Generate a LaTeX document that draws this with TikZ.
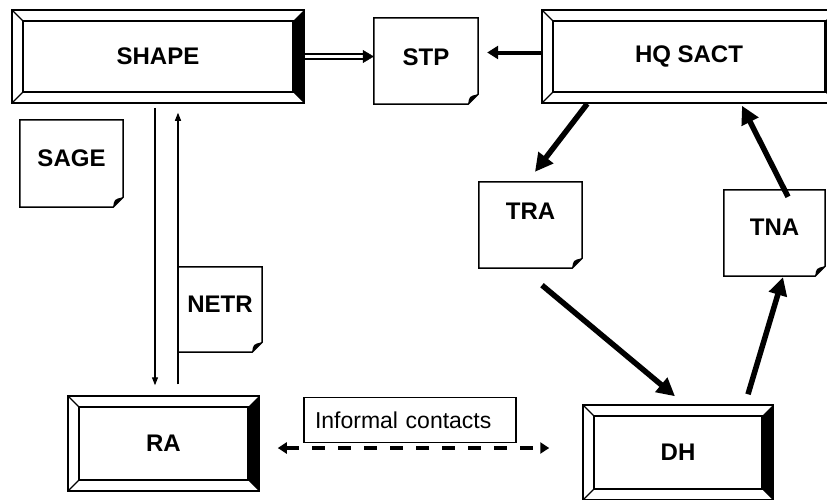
\documentclass[tikz,border=0pt]{standalone}
\usepackage{fontspec}
\setmainfont{Liberation Sans}
\usetikzlibrary{arrows.meta}

% outline of a note with its bottom right corner curled
\newcommand{\dogear}[1]{%
  \draw[line width=1.5pt] (#1.south west) -- (#1.north west) -- (#1.north east) -- ([yshift=10pt]#1.south east) -- ([xshift=-10pt]#1.south east) -- cycle;
  \fill ([yshift=10pt]#1.south east) .. controls ([xshift=-9pt,yshift=8pt]#1.south east) .. ([xshift=-10pt]#1.south east) -- cycle;
}

\begin{document}
\begin{tikzpicture}[x=1pt,y=-1pt,
  box/.style={draw, line width=1.5pt, inner sep=0pt, font=\bfseries\fontsize{24}{26}\selectfont,
    path picture={
      \fill ([shift={(-11pt,-11pt)}]path picture bounding box.north east) -- (path picture bounding box.north east)
        -- (path picture bounding box.south east) -- ([shift={(-11pt,11pt)}]path picture bounding box.south east) -- cycle;
      \draw[line width=1.2pt] ([shift={(11pt,-11pt)}]path picture bounding box.north west) rectangle ([shift={(-11pt,11pt)}]path picture bounding box.south east);
      \draw[line width=1.2pt] (path picture bounding box.north west) -- ++(11pt,-11pt);
      \draw[line width=1.2pt] (path picture bounding box.south west) -- ++(11pt,11pt);
    }},
  note/.style={inner sep=0pt, text depth=10pt, font=\bfseries\fontsize{24}{26}\selectfont},
  thinarrow/.style={line width=1.2pt, -{Triangle[length=8pt,width=6pt]}},
  bigarrow/.style={line width=5.5pt, -{Triangle[length=18pt,width=18pt]}},
  infobox/.style={draw, solid, fill=white, line width=1.3pt, font=\fontsize{23}{25}\selectfont, text width=190pt, align=left, inner xsep=11pt, inner ysep=0pt, minimum height=45pt}]

\useasboundingbox (0,0) rectangle (827,499);

% bevelled boxes
\node[box, minimum width=292pt, minimum height=93pt] (shape) at (158,56.5) {SHAPE};
\node[box, minimum width=294pt, minimum height=93pt] (hq) at (689,56.5) {HQ SACT};
\node[box, minimum width=191pt, minimum height=95pt] (ra) at (163.5,443.5) {RA};
\node[box, minimum width=190pt, minimum height=95pt] (dh) at (678,452.5) {DH};

% notes
\node[note, minimum width=104pt, minimum height=86pt, text depth=8pt] (stp) at (426,61) {STP};
\node[note, minimum width=103pt, minimum height=87pt] (sage) at (71.5,163.5) {SAGE};
\node[note, minimum width=84pt, minimum height=85pt] (netr) at (220,309.5) {NETR};
\node[note, minimum width=103pt, minimum height=86pt, text depth=28pt] (tra) at (530.5,225) {TRA};
\node[note, minimum width=101pt, minimum height=86pt, text depth=12pt] (tna) at (774.5,233) {TNA};
\dogear{stp}
\dogear{sage}
\dogear{netr}
\dogear{tra}
\dogear{tna}

% top row
\draw[line width=1.3pt, double, double distance=3.5pt, shorten >=10pt] (shape.east) -- (shape.east -| stp.west);
\draw[-{Triangle[length=11pt,width=13pt]}] ([xshift=-11pt]shape.east -| stp.west) -- (shape.east -| stp.west);
\draw[line width=4pt, -{Triangle[length=11pt,width=13pt]}] ([yshift=4pt]hq.west) -- ([xshift=9pt,yshift=4pt]hq.west -| stp.east);

% SHAPE and RA
\draw[thinarrow] ([xshift=-3pt,yshift=-4pt]shape.south) -- ([xshift=-8.5pt,yshift=10pt]ra.north);
\draw[thinarrow] ([xshift=14.5pt,yshift=11pt]ra.north) -- ([xshift=20pt,yshift=-9pt]shape.south);

% the loop on the right
\draw[bigarrow] ([xshift=46pt]hq.south west) -- ([xshift=4.5pt,yshift=10pt]tra.north);
\draw[bigarrow] ([xshift=11.5pt,yshift=-17pt]tra.south) -- ([xshift=-3pt,yshift=8pt]dh.north);
\draw[bigarrow] ([xshift=70pt,yshift=10pt]dh.north) -- ([xshift=8.5pt,yshift=-1pt]tna.south);
\draw[bigarrow] ([xshift=13.5pt,yshift=-7pt]tna.north) -- ([xshift=53pt,yshift=-2pt]hq.south);

% bottom
\draw[line width=3.5pt, dash pattern=on 13pt off 13pt, {Triangle[length=9pt,width=11pt]}-{Triangle[length=9pt,width=11pt]}]
  ([xshift=18pt,yshift=-4.5pt]ra.east) -- ([xshift=-33pt,yshift=4.5pt]dh.west)
  node[infobox, midway, anchor=south, xshift=-3.5pt, yshift=5pt] (info) {Informal contacts};

\end{tikzpicture}
\end{document}
